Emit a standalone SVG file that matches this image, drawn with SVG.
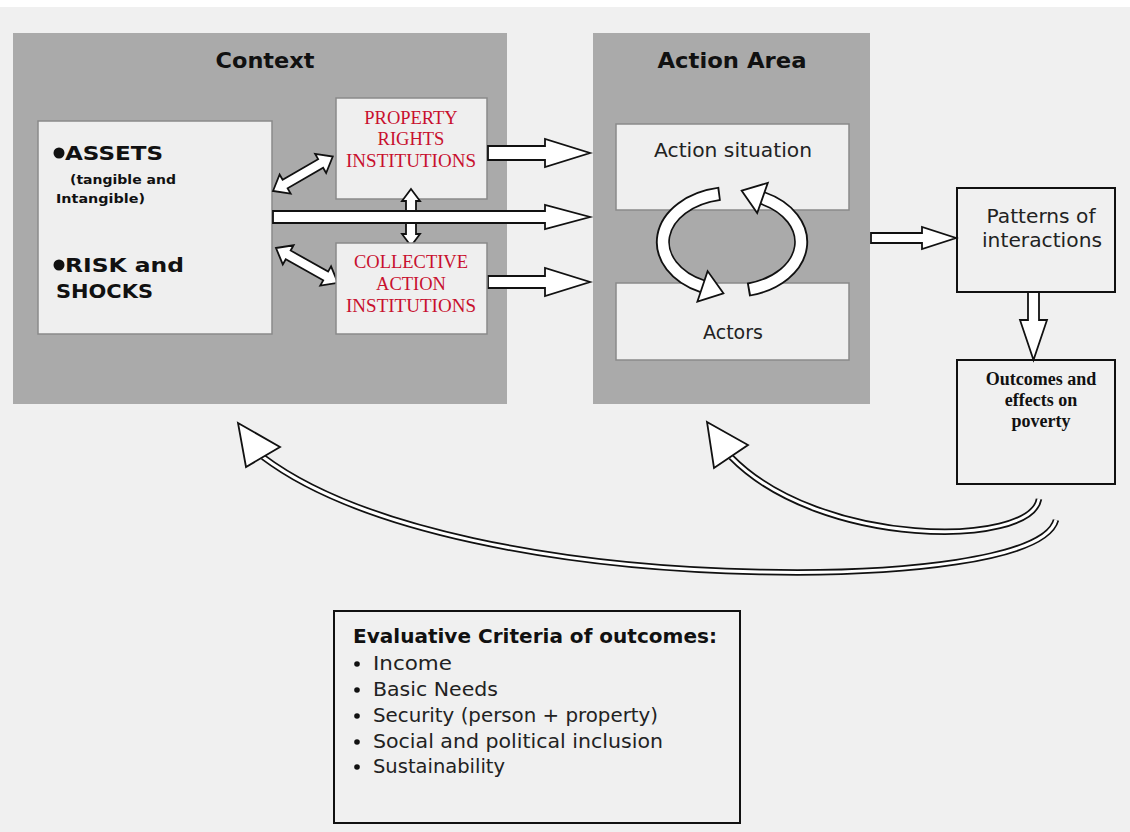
<svg xmlns="http://www.w3.org/2000/svg" width="1130" height="832" viewBox="0 0 1130 832">
<style>
.panel{fill:#aaaaaa;}
.inner{fill:#efefef;stroke:#8a8a8a;stroke-width:1.5;}
.box{fill:#f0f0f0;stroke:#111;stroke-width:2;}
.arr{fill:#fff;stroke:#111;stroke-width:1.8;stroke-linejoin:miter;}
.title{font-family:"DejaVu Sans",sans-serif;font-weight:bold;font-size:22px;fill:#111;text-anchor:middle;}
.gothic{font-family:"DejaVu Sans",sans-serif;font-size:19px;fill:#222;}
.red{font-family:"Liberation Serif",serif;font-size:18.5px;fill:#c8102e;text-anchor:middle;}
.serifb{font-family:"Liberation Serif",serif;font-size:18px;font-weight:bold;fill:#111;text-anchor:middle;}
.bold{font-family:"DejaVu Sans",sans-serif;font-weight:bold;fill:#111;}
.curveO{fill:none;stroke:#111;stroke-width:6.5;}
.curveI{fill:none;stroke:#fff;stroke-width:3;}
.ringO{fill:none;stroke:#111;stroke-width:14;}
.ringI{fill:none;stroke:#fff;stroke-width:10.5;}
</style>
<rect x="0" y="0" width="1130" height="832" fill="#f0f0f0"/>
<rect x="0" y="0" width="1130" height="7" fill="#ffffff"/>

<g id="context">
<rect class="panel" x="13" y="33" width="494" height="371"/>
<text class="title" x="265" y="68" textLength="99" lengthAdjust="spacingAndGlyphs">Context</text>
</g>
<g id="assets">
<rect class="inner" x="38" y="121" width="234" height="213"/>
<circle cx="59" cy="153" r="5.5" fill="#111"/>
<text class="bold" x="65" y="160" font-size="19" textLength="98" lengthAdjust="spacingAndGlyphs">ASSETS</text>
<text class="bold" x="70" y="184" font-size="13" textLength="106" lengthAdjust="spacingAndGlyphs">(tangible and</text>
<text class="bold" x="56" y="203" font-size="13" textLength="89" lengthAdjust="spacingAndGlyphs">Intangible)</text>
<circle cx="59" cy="265" r="5.5" fill="#111"/>
<text class="bold" x="65" y="272" font-size="19" textLength="119" lengthAdjust="spacingAndGlyphs">RISK and</text>
<text class="bold" x="56" y="298" font-size="19" textLength="97" lengthAdjust="spacingAndGlyphs">SHOCKS</text>
</g>
<g id="property-rights">
<rect class="inner" x="336" y="98" width="151" height="101"/>
<text class="red" x="411" y="124">PROPERTY</text>
<text class="red" x="411" y="145">RIGHTS</text>
<text class="red" x="411" y="167" textLength="130" lengthAdjust="spacingAndGlyphs">INSTITUTIONS</text>
</g>

<g id="action-area">
<rect class="panel" x="593" y="33" width="277" height="371"/>
<text class="title" x="732" y="68" textLength="149" lengthAdjust="spacingAndGlyphs">Action Area</text>
</g>
<g id="action-situation">
<rect class="inner" x="616" y="124" width="233" height="86"/>
<text class="gothic" x="733" y="157" text-anchor="middle" textLength="158" lengthAdjust="spacingAndGlyphs">Action situation</text>
</g>
<g id="actors">
<rect class="inner" x="616" y="283" width="233" height="77"/>
<text class="gothic" x="733" y="339" text-anchor="middle">Actors</text>
</g>

<g id="patterns">
<rect class="box" x="957" y="188" width="158" height="104"/>
<text class="gothic" x="1041" y="223" text-anchor="middle" font-size="20" textLength="109" lengthAdjust="spacingAndGlyphs">Patterns of</text>
<text class="gothic" x="1042" y="247" text-anchor="middle" font-size="20" textLength="120" lengthAdjust="spacingAndGlyphs">interactions</text>
</g>
<g id="outcomes">
<rect class="box" x="957" y="360" width="158" height="124"/>
<text class="serifb" x="1041" y="385">Outcomes and</text>
<text class="serifb" x="1041" y="406">effects on</text>
<text class="serifb" x="1041" y="427">poverty</text>
</g>

<g id="criteria">
<rect class="box" x="334" y="611" width="406" height="212"/>
<text class="bold" x="353" y="643" font-size="20" textLength="364" lengthAdjust="spacingAndGlyphs">Evaluative Criteria of outcomes:</text>
<g class="gothic">
<circle cx="357" cy="664" r="2.8" fill="#111"/>
<text x="373" y="670" textLength="79" lengthAdjust="spacingAndGlyphs">Income</text>
<circle cx="357" cy="690" r="2.8" fill="#111"/>
<text x="373" y="696" textLength="125" lengthAdjust="spacingAndGlyphs">Basic Needs</text>
<circle cx="357" cy="716" r="2.8" fill="#111"/>
<text x="373" y="722" textLength="285" lengthAdjust="spacingAndGlyphs">Security (person + property)</text>
<circle cx="357" cy="742" r="2.8" fill="#111"/>
<text x="373" y="748" textLength="290" lengthAdjust="spacingAndGlyphs">Social and political inclusion</text>
<circle cx="357" cy="767" r="2.8" fill="#111"/>
<text x="373" y="773" textLength="132" lengthAdjust="spacingAndGlyphs">Sustainability</text>
</g>
</g>

<g id="connectors">
<!-- vertical double arrow PR-CA (behind horizontal arrow) -->
<g transform="translate(411,189) rotate(90)">
<polygon class="arr" points="0,0 12,-9 12,-5 45,-5 45,-9 57,0 45,9 45,5 12,5 12,9"/>
</g>
<!-- PR to action area -->
<polygon class="arr" points="488,146 545,146 545,139 590,153 545,167 545,160 488,160"/>
<!-- assets to action area -->
<polygon class="arr" points="273,211 545,211 545,205 590,217 545,229 545,223 273,223"/>
<!-- CA to action area -->
<polygon class="arr" points="488,276 545,276 545,268 590,282 545,296 545,288 488,288"/>
<!-- double arrow assets-PR -->
<g transform="translate(273,191) rotate(-30)">
<polygon class="arr" points="0,0 14,-11 14,-5 55,-5 55,-11 69,0 55,11 55,5 14,5 14,11"/>
</g>
<!-- double arrow assets-CA -->
<g transform="translate(276,248) rotate(29.4)">
<polygon class="arr" points="0,0 14,-11 14,-5 57,-5 57,-11 71,0 57,11 57,5 14,5 14,11"/>
</g>
<!-- action area to patterns -->
<polygon class="arr" points="871,233 922,233 922,227 956,238 922,249 922,243 871,243"/>
<!-- patterns to outcomes -->
<polygon class="arr" points="1028,292 1039,292 1039,320 1047,320 1033.5,360 1020,320 1028,320"/>

<!-- cycle arrows -->
<path class="ringO" d="M 720 193.7 A 69 49 0 0 0 702.5 286.3"/>
<path class="ringI" d="M 718.2 194 A 69 49 0 0 0 702.5 286.3"/>
<polygon class="arr" points="723.4,293.3 697.4,301.5 707.6,271.1"/>
<path class="ringO" d="M 748 289.7 A 69 49 0 0 0 762.5 198"/>
<path class="ringI" d="M 749.9 289.3 A 69 49 0 0 0 762.5 198"/>
<polygon class="arr" points="741.7,190.7 767.8,182.9 757.2,213.1"/>

<!-- feedback curves -->
<path class="curveO" d="M 1039 499 C 1030 548, 820 548, 731 457"/>
<path class="curveI" d="M 1039 499 C 1030 548, 820 548, 731 457"/>
<polygon class="arr" points="707,422 748,445 714,468"/>
<path class="curveO" d="M 1056 520 C 1045 560, 900 575, 760 572 C 560 568, 360 530, 263 457"/>
<path class="curveI" d="M 1056 520 C 1045 560, 900 575, 760 572 C 560 568, 360 530, 263 457"/>
<polygon class="arr" points="238,423 280,447 246,467"/>
</g>

<g id="collective-action">
<rect class="inner" x="336" y="243" width="151" height="91"/>
<text class="red" x="411" y="268">COLLECTIVE</text>
<text class="red" x="411" y="290">ACTION</text>
<text class="red" x="411" y="312" textLength="130" lengthAdjust="spacingAndGlyphs">INSTITUTIONS</text>
</g>
</svg>
